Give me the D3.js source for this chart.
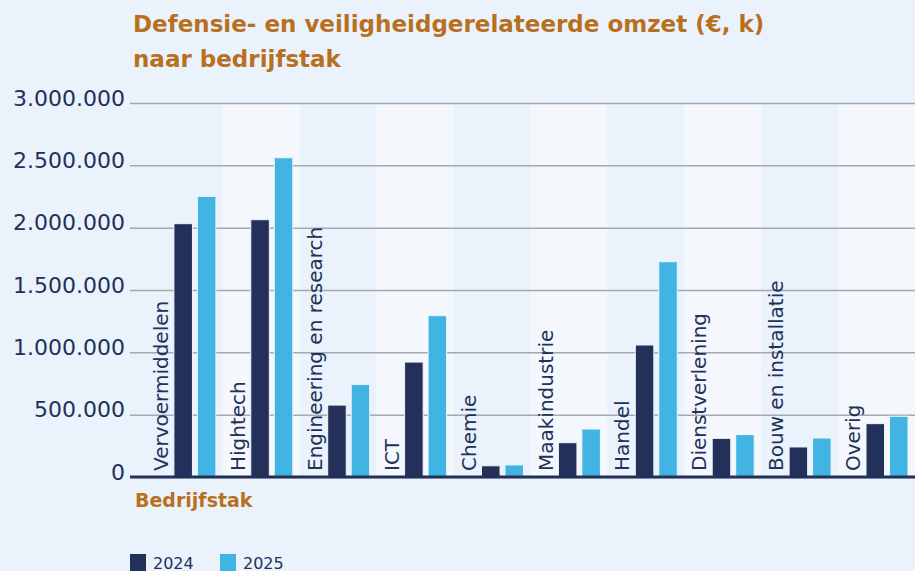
<!DOCTYPE html>
<html>
<head>
<meta charset="utf-8">
<script src="https://cdn.jsdelivr.net/npm/d3@7"></script>
<style>
  body { margin: 0; background: #eaf3fc; }
  svg { display: block; font-family: "DejaVu Sans", sans-serif; }
</style>
</head>
<body>
<svg></svg>
<script>
var categories = ["Vervoermiddelen", "Hightech", "Engineering en research", "ICT", "Chemie",
  "Maakindustrie", "Handel", "Dienstverlening", "Bouw en installatie", "Overig"];
var years = ["2024", "2025"];
var values2024 = [2032000, 2064000, 577000, 922000, 90000, 275000, 1059000, 310000, 241000, 428000];
var values2025 = [2251000, 2561000, 743000, 1294000, 97000, 385000, 1727000, 340000, 313000, 487000];
var yTicks = [0, 500000, 1000000, 1500000, 2000000, 2500000, 3000000];

var w = 915;
var h = 571;
var navy = "#22305a";
var blue = "#42b4e4";
var orange = "#b8701f";

var svg = d3.select('svg')
    .attr('width', w)
    .attr('height', h);

svg.append('rect')
    .attr('width', w)
    .attr('height', h)
    .attr('fill', '#eaf3fc');

var nl = d3.formatLocale({decimal: ",", thousands: ".", grouping: [3], currency: ["€", ""]});
var fmt = nl.format(",d");

var x = d3.scaleBand()
    .domain(categories)
    .range([146, 915]);

var y = d3.scaleLinear()
    .domain([0, 3000000])
    .range([477, 103]);

var bw = x.bandwidth();
var xSub = d3.scaleBand()
    .domain(years)
    .range([bw - 49, bw - 7])
    .paddingInner(0.21);

// alternating column shading
svg.selectAll('rect.band')
    .data(categories)
    .enter()
    .append('rect')
    .attr('x', function(d) { return x(d) })
    .attr('y', y(3000000))
    .attr('width', bw)
    .attr('height', y(0) - y(3000000))
    .attr('fill', function(d, i) { return i % 2 ? '#f4f8fd' : '#eaf3fc' });

// gridlines + y labels
var yAxis = d3.axisLeft(y)
    .tickValues(yTicks)
    .tickSize(-(w - 130))
    .tickFormat(fmt);

var gy = svg.append('g')
    .attr('transform', 'translate(130,0)')
    .call(yAxis);
gy.select('.domain').remove();
gy.selectAll('.tick line')
    .attr('stroke', '#a3a9b1')
    .attr('stroke-width', 1.5);
gy.selectAll('.tick text')
    .attr('x', -5)
    .attr('dy', '0')
    .attr('y', 2)
    .attr('fill', navy)
    .attr('font-size', 22)
    .attr('font-family', '"DejaVu Sans", sans-serif');

// bars
var rows = categories.map(function(c, i) {
    return {cat: c, vals: [{year: "2024", v: values2024[i]}, {year: "2025", v: values2025[i]}]};
});

var groups = svg.selectAll('g.cat')
    .data(rows)
    .enter()
    .append('g')
    .attr('transform', function(d) { return 'translate(' + x(d.cat) + ',0)' });

groups.selectAll('rect')
    .data(function(d) { return d.vals })
    .enter()
    .append('rect')
    .attr('x', function(d) { return xSub(d.year) })
    .attr('width', xSub.bandwidth())
    .attr('y', function(d) { return y(d.v) })
    .attr('height', function(d) { return y(0) - y(d.v) })
    .attr('fill', function(d) { return d.year == "2024" ? navy : blue })
    .attr('stroke', '#eef6fd')
    .attr('stroke-width', 1);

// rotated category labels
groups.append('text')
    .attr('transform', 'translate(22,471) rotate(-90)')
    .attr('fill', navy)
    .attr('font-size', 20)
    .text(function(d) { return d.cat });

// x axis line
svg.append('line')
    .attr('x1', 130)
    .attr('x2', w)
    .attr('y1', 477)
    .attr('y2', 477)
    .attr('stroke', navy)
    .attr('stroke-width', 3);

// titles
var title = svg.append('text')
    .attr('x', 133)
    .attr('fill', orange)
    .attr('font-weight', 'bold')
    .attr('font-size', 23);
title.append('tspan').attr('x', 133).attr('y', 32).text('Defensie- en veiligheidgerelateerde omzet (€, k)');
title.append('tspan').attr('x', 133).attr('y', 67).text('naar bedrijfstak');

svg.append('text')
    .attr('x', 135)
    .attr('y', 507)
    .attr('fill', orange)
    .attr('font-weight', 'bold')
    .attr('font-size', 19)
    .text('Bedrijfstak');

// legend
var legend = svg.selectAll('g.legend')
    .data(years)
    .enter()
    .append('g')
    .attr('transform', function(d, i) { return 'translate(' + (130 + i * 90) + ',554)' });
legend.append('rect')
    .attr('width', 16)
    .attr('height', 17)
    .attr('fill', function(d) { return d == "2024" ? navy : blue });
legend.append('text')
    .attr('x', 23)
    .attr('y', 14.5)
    .attr('fill', navy)
    .attr('font-size', 16)
    .text(function(d) { return d });
</script>
</body>
</html>
